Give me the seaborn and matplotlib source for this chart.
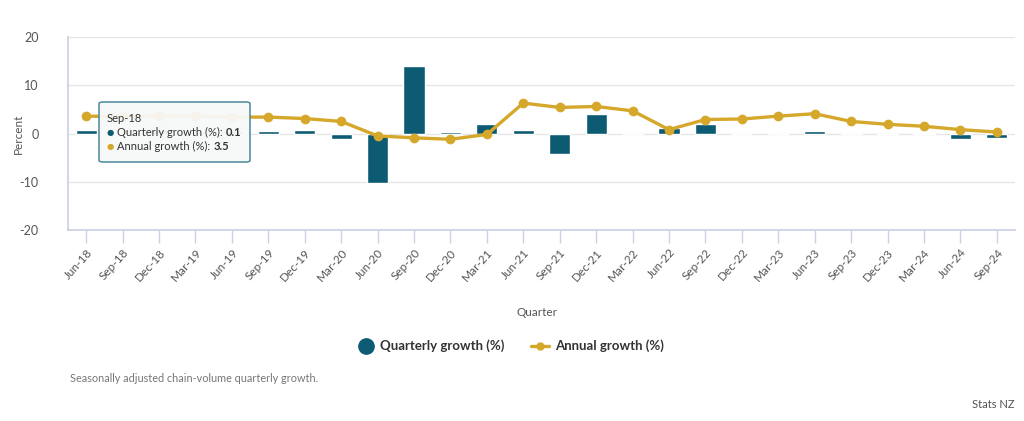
import numpy as np
import pandas as pd
import matplotlib
matplotlib.use('Agg')
import matplotlib.pyplot as plt
from matplotlib.lines import Line2D
from matplotlib.patches import FancyBboxPatch
import seaborn as sns

quarters = ['Jun-18', 'Sep-18', 'Dec-18', 'Mar-19', 'Jun-19', 'Sep-19', 'Dec-19', 'Mar-20',
            'Jun-20', 'Sep-20', 'Dec-20', 'Mar-21', 'Jun-21', 'Sep-21', 'Dec-21', 'Mar-22',
            'Jun-22', 'Sep-22', 'Dec-22', 'Mar-23', 'Jun-23', 'Sep-23', 'Dec-23', 'Mar-24',
            'Jun-24', 'Sep-24']
quarterly = [0.7, 0.1, 0.7, 0.4, 0.5, 0.6, 0.7, -1.2, -10.3, 13.9, 0.3, 1.9, 0.8, -4.2,
             4.0, 0.0, 1.1, 1.9, -0.1, 0.0, 0.5, -0.1, -0.1, 0.1, -1.1, -1.0]
annual = [3.6, 3.5, 3.6, 3.6, 3.4, 3.4, 3.1, 2.5, -0.5, -0.9, -1.2, -0.2, 6.3, 5.4, 5.6,
          4.7, 0.8, 2.9, 3.0, 3.6, 4.1, 2.5, 1.9, 1.5, 0.8, 0.3]
yticks = [-20, -10, 0, 10, 20]

teal = '#0d5b73'
gold = '#d5a82b'
axis_col = '#ccd0e6'
grid_col = '#e6e6e6'
text_col = '#555555'

df = pd.DataFrame({'quarter': quarters, 'quarterly': quarterly, 'annual': annual})

sns.set_theme(style='white')
plt.rcParams['font.family'] = ['Lato', 'DejaVu Sans']

W, H = 1024, 421
fig = plt.figure(figsize=(W / 100, H / 100), dpi=100)
ax = fig.add_axes([68 / W, 1 - 230 / H, (1015 - 68) / W, (230 - 37) / H])

sns.barplot(data=df, x='quarter', y='quarterly', color=teal, saturation=1, width=0.58, ax=ax, zorder=2)
sns.pointplot(data=df, x='quarter', y='annual', color=gold, markers='o', markersize=5.2,
              linewidth=2.4, ax=ax, zorder=3)

ax.set_ylim(-20, 20)
ax.set_xlim(-0.5, len(quarters) - 0.5)
ax.set_yticks(yticks)
ax.set_yticklabels([str(t) for t in yticks], color=text_col, fontsize=9)
for t in yticks[1:]:
    ax.axhline(t, color=grid_col, linewidth=1, zorder=1)

for s in ['top', 'right']:
    ax.spines[s].set_visible(False)
ax.spines['left'].set_color(axis_col)
ax.spines['bottom'].set_color(axis_col)

ax.tick_params(axis='x', which='both', bottom=True, length=9, color=axis_col, width=1, pad=3)
ax.tick_params(axis='y', left=False, pad=15)
plt.setp(ax.get_xticklabels(), rotation=48, ha='right', rotation_mode='anchor',
         color=text_col, fontsize=8.5)

ax.set_xlabel('Quarter', color=text_col, fontsize=8.5)
ax.xaxis.set_label_coords(0.495, -0.40)
ax.set_ylabel('Percent', color=text_col, fontsize=8.5)
ax.yaxis.set_label_coords(-44 / 947, 0.5)

# tooltip
tip = FancyBboxPatch((99 / W, 1 - 162 / H), 151 / W, 60 / H,
                     boxstyle='round,pad=0,rounding_size=0.004', transform=fig.transFigure,
                     facecolor='#f7f8f8', edgecolor='#4f8a9c', linewidth=1.2, alpha=0.95, zorder=10)
fig.add_artist(tip)
fig.text(107 / W, 1 - 118 / H, 'Sep-18', fontsize=8, color='#333333', va='center', zorder=11)
tip_rows = [(132, teal, 'Quarterly growth (%):', '0.1'), (146, gold, 'Annual growth (%):', '3.5')]
fig.canvas.draw()
renderer = fig.canvas.get_renderer()
for ypix, col, lab, val in tip_rows:
    fig.text(107 / W, 1 - ypix / H, '●', fontsize=6, color=col, va='center',
             family=['DejaVu Sans'], zorder=11)
    t = fig.text(117 / W, 1 - ypix / H, lab, fontsize=8, color='#333333', va='center', zorder=11)
    x1 = t.get_window_extent(renderer).x1
    fig.text((x1 + 3) / W, 1 - ypix / H, val, fontsize=8, weight='bold', color='#333333',
             va='center', zorder=11)

handles = [Line2D([], [], marker='o', linestyle='none', color=teal, markersize=11),
           Line2D([], [], marker='o', color=gold, markersize=5, linewidth=2.4)]
fig.legend(handles, ['Quarterly growth (%)', 'Annual growth (%)'], loc='center',
           bbox_to_anchor=(510 / W, 1 - 346 / H), ncol=2, frameon=False,
           prop={'weight': 'bold', 'size': 9.5}, labelcolor='#333333',
           handlelength=1.4, columnspacing=2.0, handletextpad=0.4)

fig.text(70 / W, 1 - 379 / H, 'Seasonally adjusted chain-volume quarterly growth.',
         fontsize=7.8, color='#777777', va='center')
fig.text(1015 / W, 1 - 405 / H, 'Stats NZ', fontsize=8, color='#555555', va='center', ha='right')

fig.savefig('out.png', dpi=100)
